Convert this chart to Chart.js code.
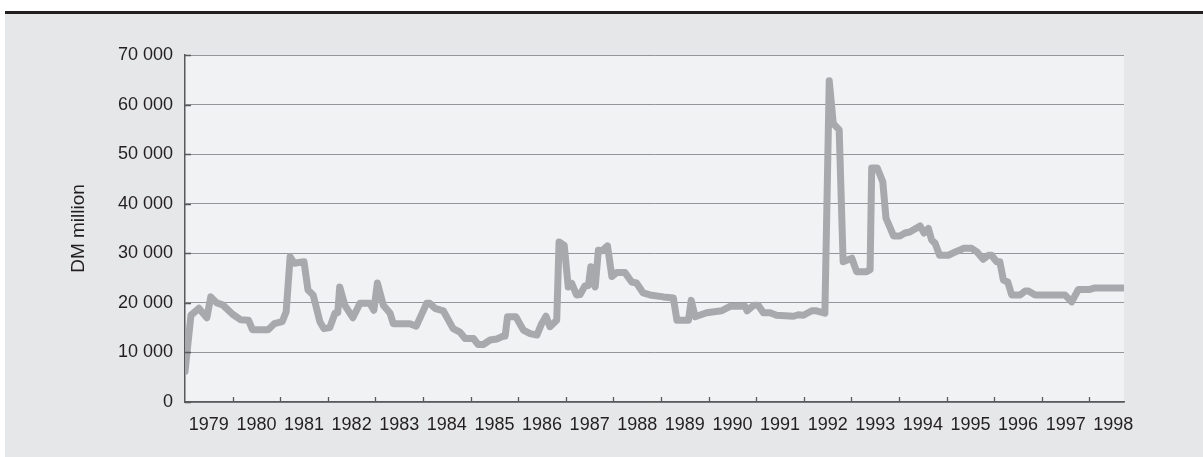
<!DOCTYPE html>
<html>
<head>
<meta charset="utf-8">
<script src="https://cdn.jsdelivr.net/npm/chart.js@4"></script>
<style>
  body { margin: 0; background: #ffffff; }
  #frame {
    position: absolute; left: 5px; top: 11px;
    width: 1198px; height: 443px;
    border-top: 3px solid #231f20;
    background: #e6e7e8;
  }
</style>
</head>
<body>
<div id="frame"><canvas id="reserveChart"></canvas></div>
<script>
// months counted from January 1979
const monthIdx = [
  0, 1.5, 3.5, 5.5, 6.5, 8, 9.5, 12, 14, 16, 17, 21, 22.5, 24.5, 25.5, 26.5, 27.5, 30, 31, 32.3,
  34, 35, 36.5, 37.8, 38.5, 39, 40.3, 42.3, 44.1, 46.6, 47.6, 48.5, 50, 51.7, 52.5, 56.7, 58.3, 60.9, 61.7, 63,
  65.1, 67.6, 69.3, 70.6, 72.7, 73.9, 75.2, 76.9, 78.6, 80, 80.7, 81.3, 83.4, 85.3, 87, 88.7, 89.9, 91, 92, 93.7,
  94.3, 95.6, 96.6, 97.5, 98.7, 99.6, 100.8, 101.7, 102.3, 103.4, 104.2, 105.1, 106.5, 107.6, 108.8, 110.9, 112.6, 113.8, 115.5, 117.2,
  120.6, 123.1, 124, 126.9, 127.6, 128.6, 131.5, 135.3, 137.4, 141.2, 141.7, 143.3, 144.5, 145.8, 147.5, 149.1, 153.4, 154.6, 155.9, 158,
  159.2, 161.3, 162.4, 163.4, 164.9, 165.9, 168.1, 169.3, 171.8, 172.7, 173.1, 174.5, 175.9, 176.7, 177.3, 178.6, 180.2, 181.5, 182.7, 185.3,
  186.3, 187.4, 188.2, 189.1, 190.2, 192.4, 193.7, 195.2, 196.2, 198.3, 199.6, 201.2, 202.5, 203.3, 204.6, 205.4, 206.3, 207.4, 208.4, 210.5,
  211.8, 212.6, 214.3, 221.8, 223.5, 225.2, 228.1, 229.4, 236.5
];
const reserves = [
  6200, 17500, 18900, 17000, 21200, 20000, 19600, 17700, 16600, 16500, 14600, 14600, 15800, 16200, 18200, 29300, 28000, 28300, 22600, 21600,
  16200, 14800, 15000, 17900, 18000, 23200, 19500, 17000, 19900, 19900, 18500, 24000, 19500, 17900, 15800, 15800, 15300, 19900, 19900, 18900,
  18400, 14800, 14100, 12800, 12800, 11600, 11600, 12500, 12700, 13200, 13300, 17200, 17200, 14500, 13800, 13500, 15800, 17300, 15200, 16500,
  32300, 31600, 23200, 23900, 21600, 21700, 23400, 23500, 27300, 23200, 30600, 30500, 31500, 25300, 26100, 26100, 24200, 24000, 22000, 21600,
  21200, 21000, 16500, 16500, 20500, 17200, 18000, 18400, 19300, 19300, 18400, 19500, 19500, 18000, 18000, 17500, 17300, 17600, 17500, 18400,
  18400, 17900, 64800, 56200, 54900, 28300, 29000, 26300, 26300, 26700, 47200, 47200, 44400, 37100, 36000, 33500, 33500, 34100, 34300, 35500,
  34100, 35000, 32700, 32000, 29600, 29600, 30100, 30600, 31000, 31000, 30300, 28800, 29600, 29600, 28300, 28300, 24600, 24200, 21600, 21600,
  22400, 22400, 21600, 21600, 20200, 22700, 22700, 23000, 23000
];
const years = ['1979', '1980', '1981', '1982', '1983', '1984', '1985', '1986', '1987', '1988',
  '1989', '1990', '1991', '1992', '1993', '1994', '1995', '1996', '1997', '1998'];
const yTicks = [0, 10000, 20000, 30000, 40000, 50000, 60000, 70000];

const textColor = '#231f20';
const fontFamily = 'Arial, "Liberation Sans", sans-serif';

const points = monthIdx.map((m, i) => ({ x: m, y: reserves[i] }));

// light plot background + small inward tick marks
const plotDecor = {
  id: 'plotDecor',
  beforeDraw(chart) {
    const { ctx, chartArea: a } = chart;
    ctx.save();
    ctx.fillStyle = '#f1f2f4';
    ctx.fillRect(a.left, a.top, a.right - a.left, a.bottom - a.top);
    ctx.restore();
  },
  afterDraw(chart) {
    const { ctx, chartArea: a, scales } = chart;
    ctx.save();
    ctx.strokeStyle = '#58595b';
    ctx.lineWidth = 1.3;
    ctx.beginPath();
    for (let k = 1; k < years.length; k++) {
      const px = Math.round(scales.x.getPixelForValue(k * 12)) + 0.5;
      ctx.moveTo(px, a.bottom);
      ctx.lineTo(px, a.bottom - 5);
    }
    yTicks.forEach(v => {
      const py = Math.round(scales.y.getPixelForValue(v)) + 0.5;
      ctx.moveTo(a.left, py);
      ctx.lineTo(a.left + 6, py);
    });
    ctx.stroke();
    ctx.restore();
  }
};

new Chart(document.getElementById('reserveChart'), {
  type: 'line',
  data: {
    datasets: [{
      data: points,
      borderColor: '#a7a9ac',
      borderWidth: 7,
      borderJoinStyle: 'round',
      borderCapStyle: 'round',
      pointRadius: 0,
      tension: 0,
      fill: false
    }]
  },
  options: {
    responsive: true,
    maintainAspectRatio: false,
    animation: false,
    layout: { padding: { left: 0, right: 79, top: 41, bottom: 0 } },
    plugins: { legend: { display: false }, tooltip: { enabled: false } },
    scales: {
      x: {
        type: 'linear',
        min: 0,
        max: 236.7,
        afterBuildTicks: s => { s.ticks = years.map((y, i) => ({ value: i * 12 + 6 })); },
        afterFit: s => { s.height = 55; },
        grid: { display: false, drawTicks: false },
        border: { display: true, color: '#58595b', width: 1.5 },
        ticks: {
          autoSkip: false,
          maxRotation: 0,
          padding: 12,
          color: textColor,
          font: { family: fontFamily, size: 18 },
          callback: v => years[Math.round((v - 6) / 12)]
        }
      },
      y: {
        min: 0,
        max: 70000,
        afterBuildTicks: s => { s.ticks = yTicks.map(v => ({ value: v })); },
        afterFit: s => { s.width = 180; },
        grid: { color: '#939598', lineWidth: 1, drawTicks: false },
        border: { display: true, color: '#58595b', width: 1.5 },
        ticks: {
          padding: 12,
          color: textColor,
          font: { family: fontFamily, size: 18 },
          callback: v => String(v).replace(/\B(?=(\d{3})+(?!\d))/g, ' ')
        },
        title: {
          display: true,
          text: 'DM million',
          color: textColor,
          font: { family: fontFamily, size: 19 },
          padding: { top: 62, bottom: 0 }
        }
      }
    }
  },
  plugins: [plotDecor]
});
</script>
</body>
</html>
